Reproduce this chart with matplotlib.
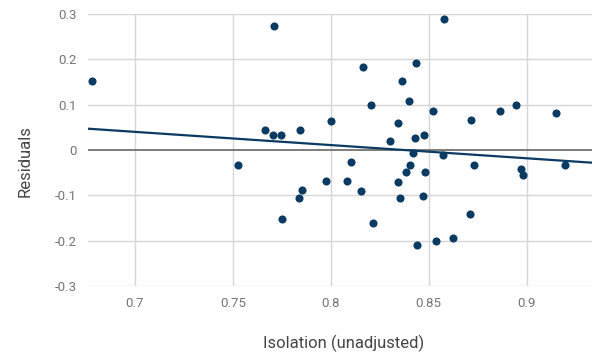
import matplotlib.pyplot as plt

# Data
isolation = [0.678, 0.7525, 0.7663, 0.7704, 0.7709, 0.7748, 0.7753, 0.784, 0.7842,
             0.7852, 0.7973, 0.800, 0.8082, 0.8104, 0.8154, 0.8162, 0.8205, 0.8218,
             0.8302, 0.8341, 0.8341, 0.8353, 0.8363, 0.8386, 0.8397, 0.8406, 0.842,
             0.843, 0.8433, 0.8442, 0.8472, 0.8474, 0.8479, 0.852, 0.8539, 0.8573,
             0.8578, 0.8626, 0.8709, 0.8714, 0.8732, 0.8866, 0.8948, 0.897, 0.898,
             0.9152, 0.9195]
residuals = [0.152, -0.032, 0.045, 0.032, 0.273, 0.032, -0.153, -0.105, 0.045,
             -0.089, -0.069, 0.063, -0.068, -0.026, -0.090, 0.183, 0.099, -0.161,
             0.020, 0.060, -0.071, -0.106, 0.152, -0.049, 0.107, -0.034, -0.007,
             0.026, 0.191, -0.209, -0.101, 0.032, -0.049, 0.085, -0.201, -0.010,
             0.290, -0.194, -0.141, 0.066, -0.032, 0.087, 0.100, -0.041, -0.056,
             0.082, -0.033]

# Trend line end points
trend_x = [0.676, 0.9334]
trend_y = [0.047, -0.028]

x_ticks = [0.7, 0.75, 0.8, 0.85, 0.9]
x_labels = ["0.7", "0.75", "0.8", "0.85", "0.9"]
y_ticks = [-0.3, -0.2, -0.1, 0, 0.1, 0.2, 0.3]
y_labels = ["-0.3", "-0.2", "-0.1", "0", "0.1", "0.2", "0.3"]

plt.rcParams['font.family'] = ['Roboto', 'DejaVu Sans']

navy = '#0b3a63'
fig = plt.figure(figsize=(5.92, 3.53), dpi=100)
ax = fig.add_axes([88 / 592, 67 / 353, 504 / 592, 272 / 353])

ax.set_xlim(0.676, 0.9334)
ax.set_ylim(-0.3, 0.3)

# grid
for y in y_ticks:
    if y != 0:
        ax.axhline(y, color='#d6d6d6', lw=1.0, zorder=0)
for x in x_ticks:
    ax.axvline(x, color='#d6d6d6', lw=1.0, zorder=0)
ax.axhline(0, color='#666666', lw=1.2, zorder=1)

ax.plot(trend_x, trend_y, color=navy, lw=1.6, zorder=2, solid_capstyle='butt')
ax.scatter(isolation, residuals, s=34, color=navy, zorder=3, linewidths=0)

for s in ax.spines.values():
    s.set_visible(False)

ax.set_xticks(x_ticks)
ax.set_xticklabels(x_labels)
ax.set_yticks(y_ticks)
ax.set_yticklabels(y_labels)
ax.tick_params(length=0, labelsize=9.5, colors='#757575', pad=8)

fig.text(344 / 592, 1 - 343 / 353, "Isolation (unadjusted)", ha='center', va='center',
         fontsize=12, color='#444444')
fig.text(25 / 592, 1 - 161 / 353, "Residuals", ha='center', va='center',
         rotation=90, fontsize=12, color='#444444')

fig.savefig("out.png", dpi=100)
